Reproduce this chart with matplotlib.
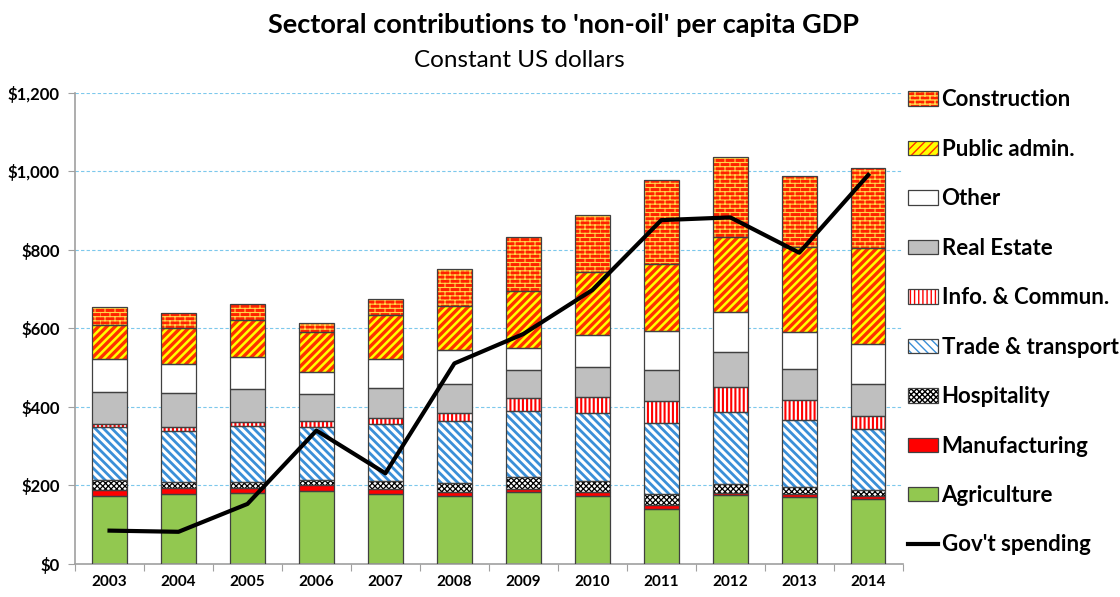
import numpy as np
import matplotlib
matplotlib.use("Agg")
import matplotlib.pyplot as plt
import matplotlib.patches as mpatches
import matplotlib.hatch as mhatch
from matplotlib.path import Path
from matplotlib.legend_handler import HandlerTuple

plt.rcParams['font.family'] = ['Lato', 'DejaVu Sans']


class BrickHatch(mhatch.HatchPatternBase):
    # brick wall: 'B' repeated sets the number of rows
    def __init__(self, hatch, density):
        self.rows = hatch.count('B') * density
        self.cols = max(int(self.rows / 2.4), 1)
        self.num_vertices = (self.rows + 1) * 2 + self.rows * self.cols * 2 if self.rows else 0

    def set_vertices_and_codes(self, vertices, codes):
        i = 0
        for r in range(self.rows + 1):
            y = r / self.rows
            vertices[i] = (0, y)
            vertices[i + 1] = (1, y)
            codes[i] = Path.MOVETO
            codes[i + 1] = Path.LINETO
            i += 2
        for r in range(self.rows):
            off = 0.5 / self.cols if r % 2 else 0
            for c in range(self.cols):
                xv = c / self.cols + off
                vertices[i] = (xv, r / self.rows)
                vertices[i + 1] = (xv, (r + 1) / self.rows)
                codes[i] = Path.MOVETO
                codes[i + 1] = Path.LINETO
                i += 2


mhatch._hatch_types.append(BrickHatch)

years = ['2003', '2004', '2005', '2006', '2007', '2008', '2009', '2010', '2011', '2012', '2013', '2014']
agriculture = [172, 178, 182, 187, 178, 173, 183, 173, 141, 175, 171, 165]
manufacturing = [17, 15, 12, 13, 12, 10, 9, 10, 8, 7, 7, 7]
hospitality = [25, 17, 14, 14, 21, 23, 30, 29, 29, 21, 19, 17]
trade = [134, 129, 144, 136, 145, 159, 169, 172, 182, 185, 170, 156]
info = [9, 11, 9, 13, 17, 20, 31, 42, 56, 64, 51, 33]
real_estate = [82, 85, 86, 70, 76, 73, 72, 75, 78, 89, 79, 80]
other = [82, 74, 81, 57, 74, 87, 55, 82, 100, 100, 95, 103]
public_admin = [88, 91, 94, 102, 111, 113, 147, 162, 170, 191, 216, 243]
construction = [46, 40, 40, 21, 40, 94, 137, 143, 214, 204, 180, 204]
gov_spending = [85, 82, 153, 340, 231, 511, 586, 698, 876, 883, 793, 991]

# label, values, face colour, hatch colour, hatch, hatch linewidth
series = [
    ('Agriculture', agriculture, '#92C850', '#92C850', None, 1.0),
    ('Manufacturing', manufacturing, '#FF0000', '#FF0000', None, 1.0),
    ('Hospitality', hospitality, 'white', 'black', 'xxxxxx', 0.9),
    ('Trade & transport', trade, 'white', '#3A8FD8', '\\\\\\\\', 2.0),
    ('Info. & Commun.', info, 'white', '#FF0000', '||||', 1.5),
    ('Real Estate', real_estate, '#BFBFBF', '#BFBFBF', None, 1.0),
    ('Other', other, 'white', 'white', None, 1.0),
    ('Public admin.', public_admin, '#FFFF00', '#FF3000', '////', 2.4),
    ('Construction', construction, '#FF2200', '#FFD84A', 'BBBB', 0.8),
]

fig = plt.figure(figsize=(11.2, 5.97), dpi=100)
ax = fig.add_axes([0.067, 0.0553, 0.739, 0.789])

x = np.arange(len(years))
bottom = np.zeros(len(years))
handles = {}
for label, vals, face, hcol, hatch, hlw in series:
    vals = np.array(vals, dtype=float)
    with plt.rc_context({'hatch.linewidth': hlw}):
        ax.bar(x, vals, 0.5, bottom=bottom, color=face, edgecolor=hcol,
               hatch=hatch, linewidth=0, zorder=2)
        hp = mpatches.Patch(facecolor=face, edgecolor=hcol, hatch=hatch, linewidth=0)
    ax.bar(x, vals, 0.5, bottom=bottom, fill=False, edgecolor='#404040',
           linewidth=0.9, zorder=3)
    op = mpatches.Patch(fill=False, edgecolor='#404040', linewidth=0.9)
    handles[label] = (hp, op)
    bottom += vals

line, = ax.plot(x, gov_spending, color='black', linewidth=3, zorder=4)

ax.set_xlim(-0.5, len(years) - 0.5)
ax.set_ylim(0, 1200)
ax.set_yticks(np.arange(0, 1201, 200))
ax.set_yticklabels(['\\$' + format(v, ',') for v in range(0, 1201, 200)],
                   fontweight='bold', fontsize=12)
ax.set_xticks(np.arange(-0.5, len(years), 1))
ax.set_xticklabels([])
ax.set_xticks(x, minor=True)
ax.set_xticklabels(years, minor=True, fontweight='bold', fontsize=11)
ax.tick_params(axis='x', which='minor', length=0, pad=8)
ax.tick_params(axis='x', which='major', length=5, color='#A0A0A0')
ax.tick_params(axis='y', length=5, color='#A0A0A0', pad=6)

for s in ['top', 'right']:
    ax.spines[s].set_visible(False)
for s in ['left', 'bottom']:
    ax.spines[s].set_color('#A0A0A0')
    ax.spines[s].set_linewidth(1.2)

ax.set_axisbelow(True)
ax.yaxis.grid(True, linestyle=(0, (3, 2)), color='#7CC8EC', linewidth=0.8)

order = ['Construction', 'Public admin.', 'Other', 'Real Estate', 'Info. & Commun.',
         'Trade & transport', 'Hospitality', 'Manufacturing', 'Agriculture']
leg_handles = [handles[k] for k in order] + [line]
leg_labels = order + ["Gov't spending"]
fig.legend(leg_handles, leg_labels, loc='upper left', bbox_to_anchor=(0.803, 0.865),
           frameon=False, prop={'weight': 'bold', 'size': 16},
           handler_map={tuple: HandlerTuple(ndivide=1)},
           handlelength=1.35, handleheight=0.62, handletextpad=0.15, labelspacing=1.28,
           borderaxespad=0)

fig.text(0.503, 0.958, "Sectoral contributions to 'non-oil' per capita GDP",
         ha='center', va='center', fontsize=19.5, fontweight='bold')
fig.text(0.464, 0.898, 'Constant US dollars', ha='center', va='center', fontsize=17.5)

fig.savefig('out.png', dpi=100)
